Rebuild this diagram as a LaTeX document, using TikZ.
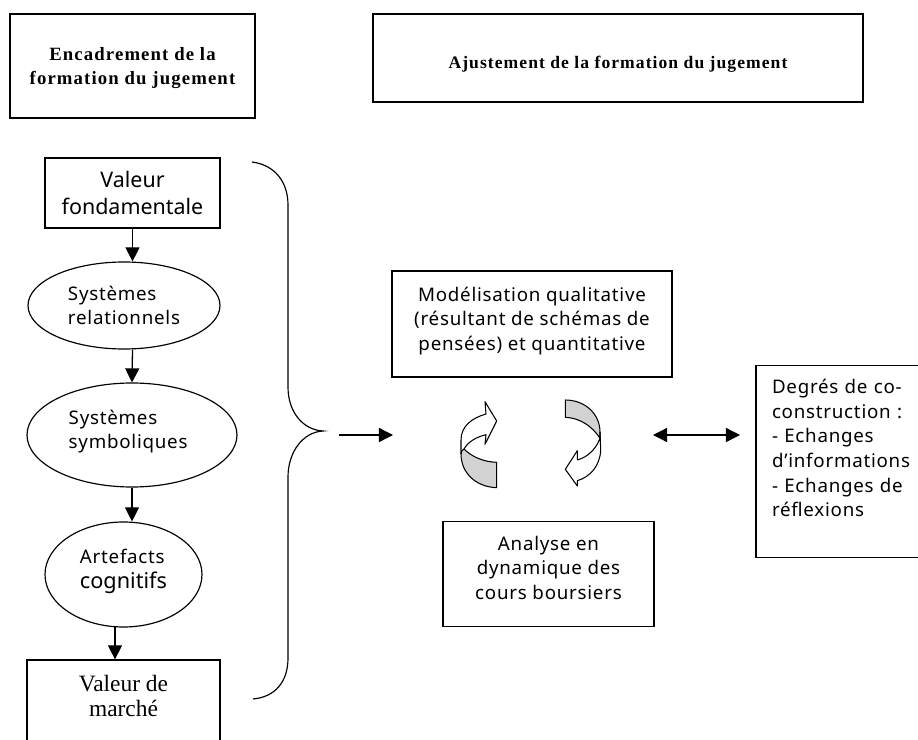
\documentclass[tikz,border=0pt]{standalone}
\usepackage{fontspec}
\setmainfont{Noto Sans}
\newfontfamily\spacedfont[LetterSpace=4]{Noto Sans}
\newfontfamily\titlefont[LetterSpace=6]{Liberation Serif}
\newfontfamily\serieffont{Liberation Serif}
\usetikzlibrary{arrows.meta,shapes.geometric}
\tikzset{
  boxtxt/.style={draw,line width=1.1pt,align=center,inner sep=0pt,font=\spacedfont\fontsize{16}{21}\selectfont},
  ovaltxt/.style={draw,ellipse,line width=1pt,align=left,inner sep=0pt,font=\spacedfont\fontsize{16}{21}\selectfont},
  titlebox/.style={boxtxt,font=\titlefont\bfseries\fontsize{15}{21}\selectfont},
  flow/.style={line width=1.1pt,-{Triangle[length=12pt,width=12pt]}},
  loopband/.style={line width=.9pt,line join=round},
}
\begin{document}
\begin{tikzpicture}[x=0.03cm,y=-0.03cm]
  \path[use as bounding box,clip] (0,0) rectangle (918,740);
  \node[titlebox,minimum width=7.35cm,minimum height=3.12cm,font=\titlefont\bfseries\fontsize{16}{21}\selectfont,text depth=0pt] (enc) at (132.5,66) {Encadrement de la\\formation du jugement};
  \node[titlebox,minimum width=14.7cm,minimum height=2.64cm,text height=21pt] (aju) at (618,58) {Ajustement de la formation du jugement};
  \node[boxtxt,minimum width=5.25cm,minimum height=2.1cm,font=\normalfont\fontsize{18.3}{23}\selectfont] (val) at (132.5,193) {Valeur\\fondamentale};
  \node[ovaltxt,minimum width=5.76cm,minimum height=2.61cm] (rel) at (124,305.5) {Systèmes\\relationnels};
  \node[ovaltxt,minimum width=6.3cm,minimum height=3.12cm,text width=108pt,text depth=31pt] (sym) at (132,435) {Systèmes\\symboliques};
  \node[ovaltxt,minimum width=4.71cm,minimum height=3.15cm,text depth=10pt] (art) at (123.5,574.5) {Artefacts\\{\normalfont\fontsize{18.5}{21}\selectfont cognitifs}};
  \node[boxtxt,minimum width=5.79cm,minimum height=3cm,font=\serieffont\fontsize{20}{22}\selectfont,text depth=24pt] (mar) at (123.5,710) {Valeur de\\marché};
  \node[boxtxt,minimum width=8.4cm,minimum height=3.18cm,text depth=9pt] (mod) at (532,324) {Modélisation qualitative\\(résultant de schémas de\\pensées) et quantitative};
  \node[boxtxt,minimum width=6.33cm,minimum height=3.15cm,text depth=11pt] (ana) at (548.5,574) {Analyse en\\dynamique des\\cours boursiers};
  \node[boxtxt,align=left,minimum width=6.3cm,minimum height=5.76cm,text width=5.34cm,text depth=128pt] (deg) at (861,461.5) {Degrés de co-\\construction :\\- Echanges\\d’informations\\- Echanges de\\réflexions};
  \coordinate (artout) at (115,627);
  \coordinate (inL) at (339,435);
  \coordinate (inR) at (393,435);
  \coordinate (exL) at (653,435);
  \coordinate (exR) at (740,435);
  \draw[flow] (val.south) -- (val.south |- rel.north);
  \draw[flow] (val.south |- rel.south) -- (sym.north);
  \draw[flow] (sym.south) -- (sym.south |- art.north);
  \draw[flow] (artout) -- (artout |- mar.north);
  \draw[flow] (inL) -- (inR);
  \draw[flow,{Triangle[length=12pt,width=12pt]}-{Triangle[length=12pt,width=12pt]}] (exL) -- (exR);
  \draw[line width=1pt] (252,162) .. controls (275,165) and (288,182) .. (288,205) -- (288,387) .. controls (288,412) and (303,430) .. (323,431) .. controls (303,432) and (288,452) .. (288,477) -- (288,658) .. controls (288,682) and (275,697) .. (253,699);
  \draw[loopband,fill=gray!35] (464,449) .. controls (472,457) and (484,462) .. (496.7,462.3) -- (496.7,487.7) .. controls (476,487) and (461,473) .. (461,454) .. controls (461,452) and (462,450) .. (464,449) -- cycle;
  \draw[loopband] (461,454) -- (461,440) .. controls (461,426) and (472,418) .. (486,414) -- (485,401.7) -- (496.7,421) -- (485,444.3) -- (486,434.7) .. controls (476,437) and (468,442) .. (464,449);
  \draw[loopband,fill=gray!35] (600,438.3) .. controls (592,426) and (580,418) .. (565.3,417.3) -- (565.3,400) .. controls (585,400) and (600,414) .. (600,432) .. controls (600,434) and (600,436) .. (600,438.3) -- cycle;
  \draw[loopband] (600,432) -- (600.7,450) .. controls (600,466) and (590,477) .. (577.3,480.7) -- (577.3,486) -- (565.3,469.3) -- (577.3,450.7) -- (577.3,460) .. controls (588,457) and (596,449) .. (600,438.3);
\end{tikzpicture}
\end{document}
